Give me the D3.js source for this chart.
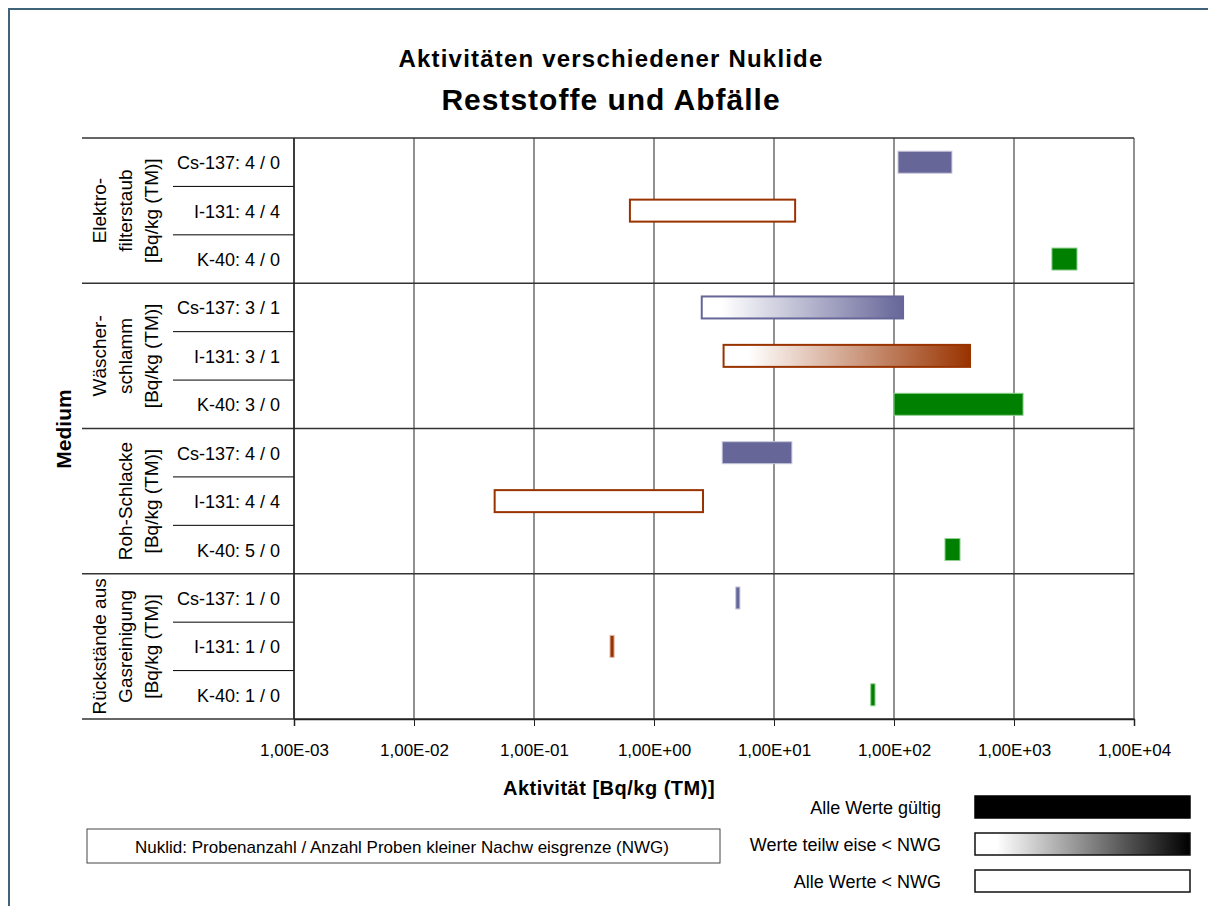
<!DOCTYPE html>
<html><head><meta charset="utf-8">
<script src="https://cdn.jsdelivr.net/npm/d3@7"></script>
<style>body{margin:0;background:#fff}text{font-family:"Liberation Sans",Arial,sans-serif}</style>
</head><body><svg id="c" width="1208" height="906"></svg>
<script>
const groupLabels = [
  ["Elektro-","filterstaub","[Bq/kg (TM)]"],
  ["Wäscher-","schlamm","[Bq/kg (TM)]"],
  ["Roh-Schlacke","[Bq/kg (TM)]"],
  ["Rückstände aus","Gasreinigung","[Bq/kg (TM)]"]
];
const rowLabels = ["Cs-137: 4 / 0","I-131: 4 / 4","K-40: 4 / 0",
  "Cs-137: 3 / 1","I-131: 3 / 1","K-40: 3 / 0",
  "Cs-137: 4 / 0","I-131: 4 / 4","K-40: 5 / 0",
  "Cs-137: 1 / 0","I-131: 1 / 0","K-40: 1 / 0"];
const nuclides = ["Cs","I","K","Cs","I","K","Cs","I","K","Cs","I","K"];
const minValues = [108, 0.63, 2070, 2.5, 3.8, 100, 3.7, 0.047, 266, 4.8, 0.43, 64];
const maxValues = [304, 15, 3350, 119, 430, 1190, 14.1, 2.56, 355, 5.2, 0.465, 69.5];
// status: "valid" = alle Werte gültig, "partial" = teilweise < NWG, "none" = alle < NWG
const status = ["valid","none","valid","partial","partial","valid","valid","none","valid","valid","valid","valid"];
const tickValues = [1e-3,1e-2,1e-1,1e0,1e1,1e2,1e3,1e4];
const tickLabels = ["1,00E-03","1,00E-02","1,00E-01","1,00E+00","1,00E+01","1,00E+02","1,00E+03","1,00E+04"];
const legendLabels = ["Alle Werte gültig","Werte teilw eise < NWG","Alle Werte < NWG"];

const colors = {Cs:"#666699", I:"#993300", K:"#008000"};
const edge = {Cs:"#c8c8dc", I:"#e0b8a8", K:"#90d090"};

const svg = d3.select("#c");
const L=294, R=1134, T=138, B=719;
const x = d3.scaleLog().domain([1e-3,1e4]).range([L,R]);
const y = d3.scaleBand().domain(d3.range(rowLabels.length)).range([T,B]);
const bw = y.bandwidth();

// frame
svg.append("path").attr("d","M9,906 L9,9 L1208,9").attr("fill","none").attr("stroke","#3f6479").attr("stroke-width",2);

// defs gradients
const defs = svg.append("defs");
function grad(id,c){
  const g=defs.append("linearGradient").attr("id",id).attr("x1","0").attr("x2","1").attr("y1","0").attr("y2","0");
  g.append("stop").attr("offset","0").attr("stop-color","#fff");
  g.append("stop").attr("offset","0.1").attr("stop-color","#fff");
  g.append("stop").attr("offset","1").attr("stop-color",c);
}
grad("gCs",colors.Cs); grad("gI",colors.I); grad("gK",colors.K); grad("gBlack","#000");

// titles
svg.append("text").attr("x",611).attr("y",67).attr("text-anchor","middle").attr("font-weight","bold").attr("font-size",24).attr("letter-spacing",1.2).text("Aktivitäten verschiedener Nuklide");
svg.append("text").attr("x",611).attr("y",110).attr("text-anchor","middle").attr("font-weight","bold").attr("font-size",30).attr("letter-spacing",1).text("Reststoffe und Abfälle");

// vertical gridlines
svg.append("g").selectAll("line").data(tickValues).join("line")
  .attr("x1",d=>x(d)).attr("x2",d=>x(d)).attr("y1",T).attr("y2",B)
  .attr("stroke","#555").attr("stroke-width",1.3);
// group separators in plot
const groupBounds = d3.range(groupLabels.length+1).map(i=> i<groupLabels.length ? y(i*3) : B);
svg.append("g").selectAll("line").data(groupBounds).join("line")
  .attr("x1",82).attr("x2",R).attr("y1",d=>d).attr("y2",d=>d)
  .attr("stroke","#333").attr("stroke-width",1.3);
// row separators in label area
svg.append("g").selectAll("line").data(d3.range(rowLabels.length).filter(i=>i%3!==0)).join("line")
  .attr("x1",173).attr("x2",L).attr("y1",i=>y(i)).attr("y2",i=>y(i))
  .attr("stroke","#000").attr("stroke-width",1);
// left axis line
svg.append("line").attr("x1",L).attr("x2",L).attr("y1",T).attr("y2",B).attr("stroke","#222").attr("stroke-width",1.5);

// x axis
const ax = svg.append("g").attr("transform",`translate(0,${B})`)
  .call(d3.axisBottom(x).tickValues(tickValues).tickFormat((d,i)=>tickLabels[i]).tickSize(7).tickPadding(18));
ax.select(".domain").attr("stroke","#222").attr("stroke-width",1.5);
ax.selectAll(".tick line").attr("stroke","#222");
ax.selectAll("text").attr("font-size",17).attr("font-family","Liberation Sans, Arial, sans-serif").attr("fill","#000");

// row labels
svg.append("g").selectAll("text").data(rowLabels).join("text")
  .attr("x",280).attr("y",(d,i)=>y(i)+bw/2+7).attr("text-anchor","end").attr("font-size",18).text(d=>d);

// group labels
groupLabels.forEach((lines,gi)=>{
  const cy=(groupBounds[gi]+groupBounds[gi+1])/2;
  const n=lines.length;
  lines.forEach((ln,li)=>{
    const cx = 158 - (n-1-li)*26;
    svg.append("text").attr("transform",`translate(${cx},${cy}) rotate(-90)`)
      .attr("text-anchor","middle").attr("font-size",19).text(ln);
  });
});
svg.append("text").attr("transform","translate(71,429) rotate(-90)").attr("text-anchor","middle")
  .attr("font-weight","bold").attr("font-size",21).text("Medium");

// bars
const bh=22;
svg.append("g").selectAll("rect").data(rowLabels).join("rect")
  .attr("x",(d,i)=>x(minValues[i]))
  .attr("width",(d,i)=>Math.max(4,x(maxValues[i])-x(minValues[i])))
  .attr("y",(d,i)=>y(i)+bw/2-bh/2).attr("height",bh)
  .attr("fill",(d,i)=> status[i]==="valid"?colors[nuclides[i]]: status[i]==="partial"?`url(#g${nuclides[i]})`:"#fff")
  .attr("stroke",(d,i)=> status[i]==="valid"?edge[nuclides[i]]:colors[nuclides[i]])
  .attr("stroke-width",(d,i)=> status[i]==="valid"?1:2);

// x title
svg.append("text").attr("x",609).attr("y",795).attr("text-anchor","middle").attr("font-weight","bold").attr("font-size",20).attr("letter-spacing",0.5).text("Aktivität [Bq/kg (TM)]");

// note box
svg.append("rect").attr("x",87).attr("y",829).attr("width",633).attr("height",34).attr("fill","#fff").attr("stroke","#444");
svg.append("text").attr("x",402).attr("y",853).attr("text-anchor","middle").attr("font-size",17)
  .text("Nuklid: Probenanzahl / Anzahl Proben kleiner Nachw eisgrenze (NWG)");

// legend
const legY=[807,844,881];
const legFill=["#000","url(#gBlack)","#fff"];
svg.append("g").selectAll("text").data(legendLabels).join("text")
  .attr("x",941).attr("y",(d,i)=>legY[i]+7).attr("text-anchor","end").attr("font-size",18).text(d=>d);
svg.append("g").selectAll("rect").data(legendLabels).join("rect")
  .attr("x",975).attr("width",215).attr("y",(d,i)=>legY[i]-11).attr("height",22)
  .attr("fill",(d,i)=>legFill[i]).attr("stroke",(d,i)=>i===0?"#000":"#111").attr("stroke-width",1.5);
</script></body></html>
